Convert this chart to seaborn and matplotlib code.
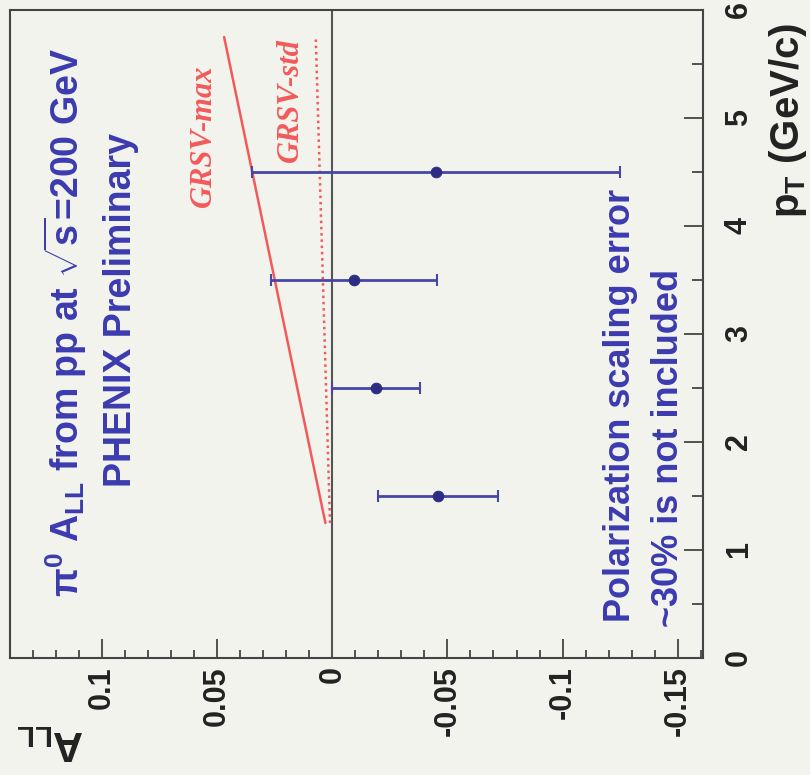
import numpy as np
import pandas as pd
import seaborn as sns
import matplotlib
matplotlib.use("Agg")
import matplotlib.pyplot as plt

# %% data (plot is drawn rotated: A_LL horizontal, pT vertical)
pt = [1.5, 2.5, 3.5, 4.5]
all_val = [-0.046, -0.019, -0.0095, -0.045]
all_err = [0.026, 0.019, 0.036, 0.080]

grsv_max_pt = [1.25, 5.75]
grsv_max = [0.003, 0.047]
grsv_std_pt = [1.25, 5.75]
grsv_std = [0.001, 0.0072]

pt_ticks = [0, 1, 2, 3, 4, 5, 6]
all_ticks = [0.1, 0.05, 0, -0.05, -0.1, -0.15]
all_tick_labels = ["0.1", "0.05", "0", "-0.05", "-0.1", "-0.15"]

df = pd.DataFrame({"pT": pt, "ALL": all_val, "err": all_err})

# %% style
sns.set_theme(style="ticks")
bg = "#f3f3ee"
plt.rcParams["font.family"] = ["Liberation Sans", "DejaVu Sans"]
plt.rcParams["mathtext.fontset"] = "custom"
plt.rcParams["mathtext.rm"] = "Liberation Sans:bold"
plt.rcParams["mathtext.bf"] = "Liberation Sans:bold"
plt.rcParams["mathtext.it"] = "Liberation Sans:bold:italic"

blue = "#3b3bb0"
navy = "#2c2c85"
red = "#f25a5a"

fig = plt.figure(figsize=(8.1, 7.75), dpi=100, facecolor=bg)
ax = fig.add_axes([10 / 810, 1 - 658 / 775, 693 / 810, 648 / 775])
ax.set_facecolor(bg)

# zero line
ax.axvline(0, color="#555555", lw=1.5, zorder=1)

# theory curves
sns.lineplot(x=grsv_max, y=grsv_max_pt, ax=ax, color=red, lw=1.8, sort=False,
             estimator=None, zorder=2)
sns.lineplot(x=grsv_std, y=grsv_std_pt, ax=ax, color=red, lw=1.8, sort=False,
             estimator=None, linestyle=(0, (1, 1.5)), zorder=2)

# data
ax.errorbar(df.ALL, df.pT, xerr=df.err, fmt="none", ecolor="#4646a6", elinewidth=2,
            capsize=4, capthick=1.5, zorder=3)
sns.scatterplot(data=df, x="ALL", y="pT", ax=ax, color=navy, s=60, edgecolor=navy,
                zorder=4, legend=False)

# axes
ax.set_xlim(0.1396, -0.161)
ax.set_ylim(0, 6)
ax.set_xticks(all_ticks)
ax.set_xticklabels(all_tick_labels)
ax.set_xticks(np.arange(-0.16, 0.14, 0.01), minor=True)
ax.set_yticks(pt_ticks)
ax.set_yticks(np.arange(0, 6.01, 0.5), minor=True)
ax.yaxis.tick_right()
ax.tick_params(axis="both", which="major", direction="in", length=14, width=1.3,
               color="#444444", labelsize=22)
ax.tick_params(axis="both", which="minor", direction="in", length=6, width=1.3,
               color="#444444")
ax.tick_params(axis="y", which="minor", length=8)
ax.tick_params(axis="x", labelrotation=90, pad=6)
ax.tick_params(axis="y", labelrotation=90, pad=15)
for lab in ax.get_xticklabels() + ax.get_yticklabels():
    lab.set_fontweight("bold")
    lab.set_color("#222222")
for lab in ax.get_yticklabels():
    lab.set_va("center")
for s in ax.spines.values():
    s.set_color("#444444")
    s.set_linewidth(1.5)
ax.set_xlabel("")
ax.set_ylabel("")

# texts
ax.text(0.116, 3.11, r"π$^0$ A$_{\mathrm{LL}}$ from pp at $\sqrt{\mathrm{s}}$=200 GeV",
        rotation=90, ha="center", va="center", color=blue, fontsize=27, fontweight="bold")
ax.text(0.092, 3.22, "PHENIX Preliminary", rotation=90, ha="center", va="center",
        color=blue, fontsize=27, fontweight="bold")
ax.text(-0.125, 0.33, "Polarization scaling error", rotation=90, ha="center", va="bottom",
        color=blue, fontsize=26, fontweight="bold")
ax.text(-0.146, 0.29, "~30% is not included", rotation=90, ha="center", va="bottom",
        color=blue, fontsize=26, fontweight="bold")
ax.text(0.056, 4.84, "GRSV-max", rotation=90, ha="center", va="center", color=red,
        fontsize=22, fontweight="bold", style="italic", family="Liberation Serif")
ax.text(0.018, 5.17, "GRSV-std", rotation=90, ha="center", va="center", color=red,
        fontsize=22, fontweight="bold", style="italic", family="Liberation Serif")

fig.text(50 / 810, 1 - 742 / 775, r"A$_{\mathrm{LL}}$", rotation=180, ha="center",
         va="center", fontsize=30, fontweight="bold", color="#222222")
fig.text(788 / 810, 1 - 120 / 775, r"p$_{\mathrm{T}}$ (GeV/c)", rotation=90, ha="center",
         va="center", fontsize=29, fontweight="bold", color="#222222")

fig.savefig("out.png", dpi=100, facecolor=bg)
